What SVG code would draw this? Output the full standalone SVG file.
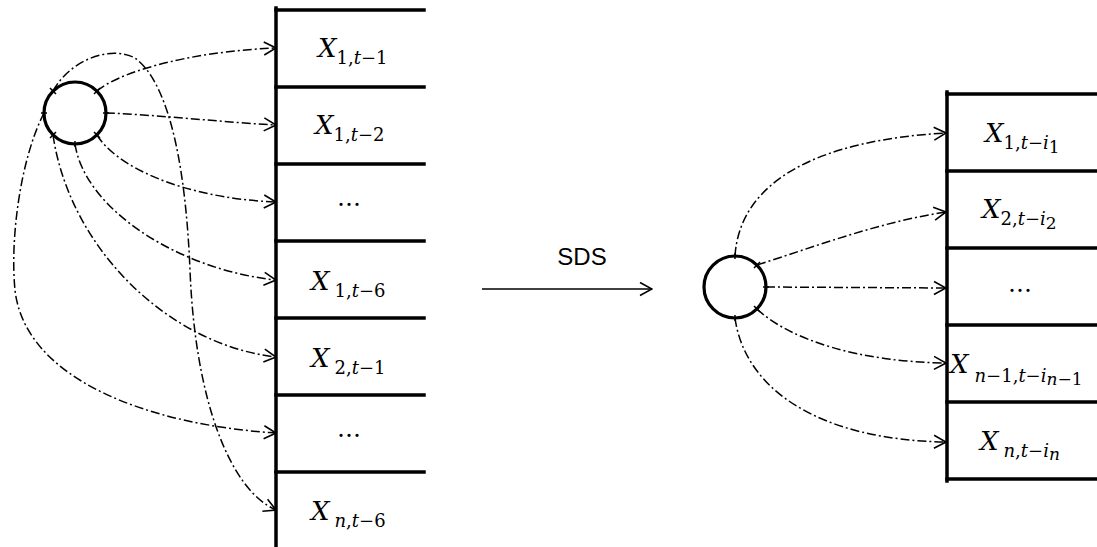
<svg xmlns="http://www.w3.org/2000/svg" width="1097" height="547" viewBox="0 0 1097 547">
<style>
  .bd{stroke:#000;stroke-width:3.5;fill:none;stroke-linecap:square}
  .cir{stroke:#000;stroke-width:3.2;fill:#fff}
  .tick{stroke:#000;stroke-width:1.5}
  .con{stroke:#000;stroke-width:1.5;fill:none;stroke-dasharray:9 3 2 3;marker-end:url(#ah)}
  .m{font-family:"DejaVu Serif","Liberation Serif",serif;fill:#000}
  .X{font-size:26px;font-style:italic}
  .s{font-size:18px}
  .i{font-style:italic}
  .ss{font-size:17px}
  .dots{font-family:"DejaVu Serif","Liberation Serif",serif;font-size:24px;text-anchor:middle;fill:#000}
  .lbl{font-family:"Liberation Sans","Open Sans",sans-serif;font-size:24px;text-anchor:middle;fill:#000}
</style>
<defs>
  <marker id="ah" viewBox="0 0 14 16" refX="13" refY="8" markerWidth="14" markerHeight="16" markerUnits="userSpaceOnUse" orient="auto">
    <path d="M1,1.5 L13,8 L1,14.5" fill="none" stroke="#000" stroke-width="1.6" stroke-dasharray="none"/>
  </marker>
</defs>
<rect width="1097" height="547" fill="#fff"/>

<g id="connectors">
  <path class="con" d="M97,91 C115,75 180,52 276,48"/>
  <path class="con" d="M106,113 C160,115 220,122 276,125"/>
  <path class="con" d="M97,135 C115,165 180,198 276,202"/>
  <path class="con" d="M75,144 C85,210 180,270 276,280"/>
  <path class="con" d="M53,135 C70,250 170,345 276,357"/>
  <path class="con" d="M44,113 C20,160 10,240 15,290 C25,380 150,425 276,433"/>
  <path class="con" d="M53,91 C70,60 110,45 135,58 C165,80 185,150 190,270 C195,400 230,490 276,510"/>
  <path class="con" d="M735,256 C740,180 820,140 946,133"/>
  <path class="con" d="M757,265 C820,245 880,222 946,212"/>
  <path class="con" d="M766,287 L946,288"/>
  <path class="con" d="M757,309 C790,340 860,362 946,363"/>
  <path class="con" d="M735,318 C745,390 820,440 946,442"/>
  <g id="sds-arrow">
    <path d="M482,289 L652,289" stroke="#000" stroke-width="1.4" fill="none" marker-end="url(#ah)"/>
    <text class="lbl" x="582" y="265">SDS</text>
  </g>
</g>

<g id="circle-left">
  <circle class="cir" cx="75" cy="113" r="31"/>
  <path class="tick" d="M50,88 L56,94 M100,88 L94,94 M103,113 L109,113 M100,138 L94,132 M75,141 L75,147 M50,138 L56,132 M41,113 L47,113"/>
</g>

<g id="table-left">
  <path class="bd" d="M276,8 L276,547"/>
  <path class="bd" d="M276,10 L424,10 M276,87 L424,87 M276,164 L424,164 M276,241 L424,241 M276,318 L424,318 M276,395 L424,395 M276,472 L424,472"/>
  <g id="cell-l1"><text class="m" x="318" y="57"><tspan class="X">X</tspan><tspan class="s" dy="7">1,</tspan><tspan class="s i">t</tspan><tspan class="s">−1</tspan></text></g>
  <g id="cell-l2"><text class="m" x="315" y="134"><tspan class="X">X</tspan><tspan class="s" dy="7">1,</tspan><tspan class="s i">t</tspan><tspan class="s">−2</tspan></text></g>
  <g id="cell-l3"><text class="dots" x="349" y="206">…</text></g>
  <g id="cell-l4"><text class="m" x="311" y="290"><tspan class="X">X</tspan><tspan class="s" dx="5" dy="7">1,</tspan><tspan class="s i">t</tspan><tspan class="s">−6</tspan></text></g>
  <g id="cell-l5"><text class="m" x="311" y="367"><tspan class="X">X</tspan><tspan class="s" dx="5" dy="7">2,</tspan><tspan class="s i">t</tspan><tspan class="s">−1</tspan></text></g>
  <g id="cell-l6"><text class="dots" x="349" y="437">…</text></g>
  <g id="cell-l7"><text class="m" x="311" y="520"><tspan class="X">X</tspan><tspan class="s i" dx="5" dy="7">n</tspan><tspan class="s">,</tspan><tspan class="s i">t</tspan><tspan class="s">−6</tspan></text></g>
</g>

<g id="circle-right">
  <circle class="cir" cx="735" cy="287" r="31"/>
  <path class="tick" d="M735,253 L735,259 M760,262 L754,268 M763,287 L769,287 M760,312 L754,306 M735,315 L735,321"/>
</g>

<g id="table-right">
  <path class="bd" d="M947,92 L947,481"/>
  <path class="bd" d="M947,94 L1097,94 M947,171 L1097,171 M947,248 L1097,248 M947,325 L1097,325 M947,402 L1097,402 M947,479 L1097,479"/>
  <g id="cell-r1"><text class="m" x="985" y="142"><tspan class="X">X</tspan><tspan class="s" dy="7">1,</tspan><tspan class="s i">t</tspan><tspan class="s">−</tspan><tspan class="s i">i</tspan><tspan class="ss" dy="4">1</tspan></text></g>
  <g id="cell-r2"><text class="m" x="982" y="218"><tspan class="X">X</tspan><tspan class="s" dy="7">2,</tspan><tspan class="s i">t</tspan><tspan class="s">−</tspan><tspan class="s i">i</tspan><tspan class="ss" dy="4">2</tspan></text></g>
  <g id="cell-r3"><text class="dots" x="1020" y="292">…</text></g>
  <g id="cell-r4"><text class="m" x="950" y="373"><tspan class="X">X</tspan><tspan class="s i" dx="6" dy="9">n</tspan><tspan class="s">−1,</tspan><tspan class="s i">t</tspan><tspan class="s">−</tspan><tspan class="s i">i</tspan><tspan class="ss i" dy="3">n</tspan><tspan class="ss">−1</tspan></text></g>
  <g id="cell-r5"><text class="m" x="980" y="450"><tspan class="X">X</tspan><tspan class="s i" dx="5" dy="7">n</tspan><tspan class="s">,</tspan><tspan class="s i">t</tspan><tspan class="s">−</tspan><tspan class="s i">i</tspan><tspan class="ss i" dy="3">n</tspan></text></g>
</g>
</svg>
